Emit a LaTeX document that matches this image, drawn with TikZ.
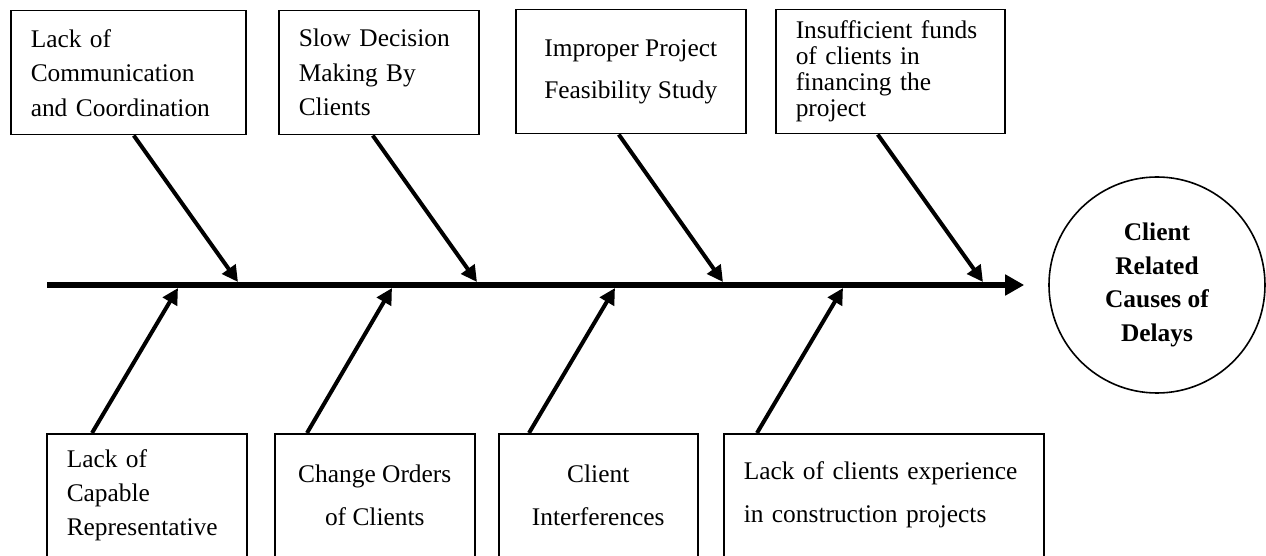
\documentclass[tikz,border=0pt]{standalone}
\usepackage{fontspec}
\setmainfont{Liberation Serif}
\usetikzlibrary{arrows.meta}
\newcommand{\causeFont}[1]{\fontsize{12.7}{#1}\selectfont}

\begin{document}
\begin{tikzpicture}[x=0.5pt, y=-0.5pt,
    cause/.style={draw, line width=0.75pt, anchor=north west, inner ysep=0pt, inner xsep=10pt, minimum height=62pt},
    goal/.style={draw, circle, line width=0.8pt, inner sep=0pt, minimum size=108pt, align=center},
    bone/.style={line width=2pt, -{Triangle[length=8pt,width=8pt]}},
    spine/.style={line width=3.25pt, -{Triangle[length=9.5pt,width=10pt]}}]
  \useasboundingbox (0,0) rectangle (1266,556);
  % causes above the spine
  \node[cause, text width=97.5pt, align=left, font={\causeFont{17.25}}] (comm) at (10,10) {Lack of\\Communication\\and Coordination};
  \node[cause, text width=80pt, align=left, font={\causeFont{17.25}}] (slow) at (278,10) {Slow Decision\\Making By\\Clients};
  \node[cause, minimum width=115pt, align=center, font={\causeFont{21}}] (study) at (515,9) {Improper Project\\Feasibility Study};
  \node[cause, text width=94.5pt, align=left, font={\causeFont{13}}] (funds) at (775,9) {Insufficient funds\\of clients in\\financing the\\project};
  % causes below the spine
  \node[cause, text width=80pt, align=left, font={\causeFont{17}}, minimum height=61.5pt] (rep) at (46,433) {Lack of\\Capable\\Representative};
  \node[cause, minimum width=100pt, align=center, font={\causeFont{21.5}}, minimum height=61.5pt] (orders) at (274,433) {Change Orders\\of Clients};
  \node[cause, minimum width=99.5pt, align=center, font={\causeFont{21.5}}, minimum height=61.5pt] (interf) at (498,433) {Client\\Interferences};
  \node[cause, text width=140pt, align=left, font={\causeFont{21.5}}, minimum height=61.5pt] (exper) at (723,433) {Lack of clients experience\\in construction projects};
  % effect
  \node[goal, font={\causeFont{16.75}\bfseries}] (delays) at (1157,285) {Client\\Related\\Causes of\\Delays};

  \coordinate (tail) at (47,285);
  \coordinate (t1) at (238,282);
  \coordinate (t2) at (477,282);
  \coordinate (t3) at (723,282);
  \coordinate (t4) at (983,282);
  \coordinate (u1) at (178,288);
  \coordinate (u2) at (392,288);
  \coordinate (u3) at (615,288);
  \coordinate (u4) at (843,288);

  \draw[spine, shorten >=12pt] (tail) -- (delays);
  \draw[bone] ([xshift=2.75pt]comm.south) -- (t1);
  \draw[bone] ([xshift=-3pt]slow.south) -- (t2);
  \draw[bone] ([xshift=-6pt]study.south) -- (t3);
  \draw[bone] ([xshift=-6.25pt]funds.south) -- (t4);
  \draw[bone] ([xshift=23pt]rep.north west) -- (u1);
  \draw[bone] ([xshift=16.5pt]orders.north west) -- (u2);
  \draw[bone] ([xshift=15.5pt]interf.north west) -- (u3);
  \draw[bone] ([xshift=17pt]exper.north west) -- (u4);
\end{tikzpicture}
\end{document}
